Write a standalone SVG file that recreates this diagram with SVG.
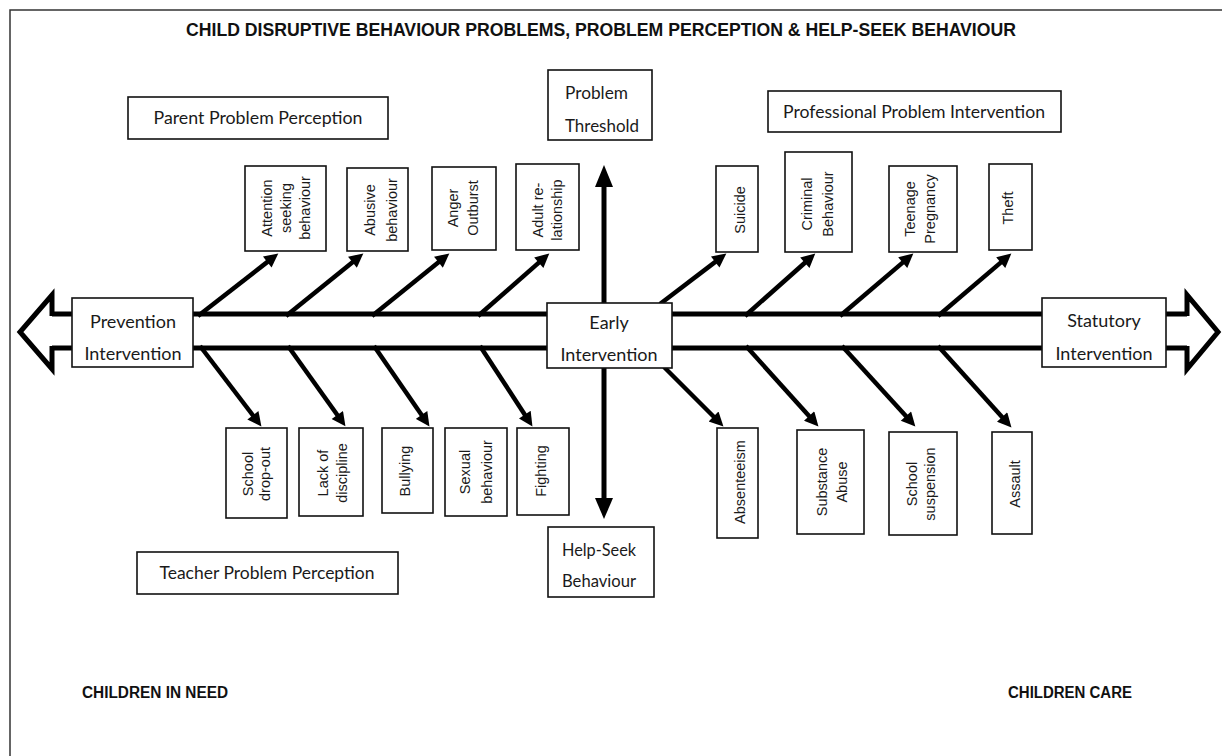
<svg xmlns="http://www.w3.org/2000/svg" width="1222" height="756" viewBox="0 0 1222 756">
  <defs>
    <marker id="head" viewBox="0 0 10 10" markerUnits="userSpaceOnUse" markerWidth="16" markerHeight="14" refX="6" refY="5" orient="auto">
      <path d="M0,0 L10,5 L0,10 z" fill="#000"/>
    </marker>
    <style>
      .frame { fill: none; stroke: #333; stroke-width: 1.5; }
      .box { fill: #fff; stroke: #111; stroke-width: 1.6; }
      .spine { fill: none; stroke: #000; stroke-width: 5; stroke-linejoin: miter; }
      .branch { fill: none; stroke: #000; stroke-width: 4.5; marker-end: url(#head); }
      .title { font-family: "Liberation Sans", Arial, sans-serif; font-weight: bold; font-size: 18px; fill: #111; }
      .lbl { font-family: Lato, "Liberation Sans", sans-serif; font-size: 18px; fill: #1a1a1a; }
      .mid { text-anchor: middle; }
      .v { font-family: "Liberation Sans", Arial, sans-serif; font-size: 14.5px; fill: #1a1a1a; text-anchor: middle; }
      .foot { font-family: "Liberation Sans", Arial, sans-serif; font-weight: bold; font-size: 16px; fill: #111; }
    </style>
  </defs>

  <rect width="1222" height="756" fill="#fff"/>
  <rect class="frame" x="10" y="10" width="1240" height="770"/>

  <text class="title mid" x="601" y="36" textLength="830" lengthAdjust="spacingAndGlyphs">CHILD DISRUPTIVE BEHAVIOUR PROBLEMS, PROBLEM PERCEPTION &amp; HELP-SEEK BEHAVIOUR</text>

  <g id="connectors">
    <!-- double-lined horizontal arrow -->
    <line class="spine" x1="52" y1="314" x2="1187" y2="314"/>
    <line class="spine" x1="52" y1="348" x2="1187" y2="348"/>
    <polyline class="spine" points="52,316 52,295 20,332 52,369 52,346"/>
    <polyline class="spine" points="1187,316 1187,295 1218,332 1187,369 1187,346"/>
    <!-- vertical arrow -->
    <line class="spine" x1="604" y1="303" x2="604" y2="185"/>
    <polygon points="595,187 613,187 604,165" fill="#000"/>
    <line class="spine" x1="604" y1="368" x2="604" y2="500"/>
    <polygon points="595,498 613,498 604,519" fill="#000"/>
    <!-- upper branches -->
    <line class="branch" x1="198" y1="316" x2="273.9" y2="256.9"/>
    <line class="branch" x1="286" y1="316" x2="359.0" y2="256.9"/>
    <line class="branch" x1="372" y1="316" x2="445.0" y2="256.9"/>
    <line class="branch" x1="478" y1="316" x2="545.1" y2="257.1"/>
    <line class="branch" x1="660" y1="304" x2="721.9" y2="256.9"/>
    <line class="branch" x1="745" y1="316" x2="811.1" y2="257.2"/>
    <line class="branch" x1="840" y1="316" x2="909.1" y2="257.1"/>
    <line class="branch" x1="938" y1="316" x2="1007.1" y2="257.1"/>
    <!-- lower branches -->
    <line class="branch" x1="200" y1="346" x2="258.0" y2="422.0"/>
    <line class="branch" x1="288" y1="346" x2="342.2" y2="421.8"/>
    <line class="branch" x1="374" y1="346" x2="426.3" y2="421.8"/>
    <line class="branch" x1="480" y1="346" x2="529.4" y2="421.7"/>
    <line class="branch" x1="664" y1="367" x2="719.5" y2="422.5"/>
    <line class="branch" x1="746" y1="346" x2="814.7" y2="422.3"/>
    <line class="branch" x1="842" y1="346" x2="911.6" y2="422.3"/>
    <line class="branch" x1="938" y1="346" x2="1007.7" y2="423.3"/>
  </g>

  <!-- perception / threshold labels -->
  <g id="parent-perception">
    <rect class="box" x="128" y="97" width="260" height="42"/>
    <text class="lbl mid" x="258" y="124" textLength="209" lengthAdjust="spacingAndGlyphs">Parent Problem Perception</text>
  </g>
  <g id="problem-threshold">
    <rect class="box" x="548" y="70" width="104" height="70"/>
    <text class="lbl" x="565" y="99" textLength="63" lengthAdjust="spacingAndGlyphs">Problem</text>
    <text class="lbl" x="565" y="132" textLength="74" lengthAdjust="spacingAndGlyphs">Threshold</text>
  </g>
  <g id="professional-intervention">
    <rect class="box" x="768" y="91" width="293" height="41"/>
    <text class="lbl mid" x="914" y="118" textLength="262" lengthAdjust="spacingAndGlyphs">Professional Problem Intervention</text>
  </g>
  <g id="teacher-perception">
    <rect class="box" x="137" y="552" width="261" height="42"/>
    <text class="lbl mid" x="267" y="579" textLength="215" lengthAdjust="spacingAndGlyphs">Teacher Problem Perception</text>
  </g>
  <g id="help-seek">
    <rect class="box" x="548" y="527" width="106" height="70"/>
    <text class="lbl" x="562" y="556" textLength="74" lengthAdjust="spacingAndGlyphs">Help-Seek</text>
    <text class="lbl" x="562" y="587" textLength="74" lengthAdjust="spacingAndGlyphs">Behaviour</text>
  </g>

  <!-- intervention stages on the spine -->
  <g id="prevention">
    <rect class="box" x="72" y="298" width="121" height="69"/>
    <text class="lbl mid" x="133" y="328">Prevention</text>
    <text class="lbl mid" x="133" y="360">Intervention</text>
  </g>
  <g id="early">
    <rect class="box" x="547" y="303" width="125" height="65"/>
    <text class="lbl mid" x="609" y="329">Early</text>
    <text class="lbl mid" x="609" y="361">Intervention</text>
  </g>
  <g id="statutory">
    <rect class="box" x="1042" y="298" width="124" height="69"/>
    <text class="lbl mid" x="1104" y="327">Statutory</text>
    <text class="lbl mid" x="1104" y="360">Intervention</text>
  </g>

  <!-- upper problem boxes -->
  <g id="attention">
    <rect class="box" x="245" y="166" width="81" height="85"/>
    <text class="v" transform="translate(272,208) rotate(-90)">Attention</text>
    <text class="v" transform="translate(291,208) rotate(-90)">seeking</text>
    <text class="v" transform="translate(310,208) rotate(-90)">behaviour</text>
  </g>
  <g id="abusive">
    <rect class="box" x="347" y="168" width="61" height="83"/>
    <text class="v" transform="translate(375,210) rotate(-90)">Abusive</text>
    <text class="v" transform="translate(397,210) rotate(-90)">behaviour</text>
  </g>
  <g id="anger">
    <rect class="box" x="432" y="167" width="64" height="83"/>
    <text class="v" transform="translate(458,208) rotate(-90)">Anger</text>
    <text class="v" transform="translate(478,208) rotate(-90)">Outburst</text>
  </g>
  <g id="adult">
    <rect class="box" x="516" y="164" width="63" height="86"/>
    <text class="v" transform="translate(543,210) rotate(-90)">Adult re-</text>
    <text class="v" transform="translate(562,210) rotate(-90)">lationship</text>
  </g>
  <g id="suicide">
    <rect class="box" x="716" y="166" width="42" height="86"/>
    <text class="v" transform="translate(745,210) rotate(-90)">Suicide</text>
  </g>
  <g id="criminal">
    <rect class="box" x="785" y="152" width="67" height="100"/>
    <text class="v" transform="translate(812,204) rotate(-90)">Criminal</text>
    <text class="v" transform="translate(833,204) rotate(-90)">Behaviour</text>
  </g>
  <g id="teenage">
    <rect class="box" x="889" y="166" width="68" height="86"/>
    <text class="v" transform="translate(915,209) rotate(-90)">Teenage</text>
    <text class="v" transform="translate(935,209) rotate(-90)">Pregnancy</text>
  </g>
  <g id="theft">
    <rect class="box" x="989" y="164" width="43" height="86"/>
    <text class="v" transform="translate(1013,208) rotate(-90)">Theft</text>
  </g>

  <!-- lower problem boxes -->
  <g id="dropout">
    <rect class="box" x="226" y="428" width="61" height="90"/>
    <text class="v" transform="translate(253,474) rotate(-90)">School</text>
    <text class="v" transform="translate(270,474) rotate(-90)">drop-out</text>
  </g>
  <g id="discipline">
    <rect class="box" x="299" y="428" width="64" height="88"/>
    <text class="v" transform="translate(328,473) rotate(-90)">Lack of</text>
    <text class="v" transform="translate(347,473) rotate(-90)">discipline</text>
  </g>
  <g id="bullying">
    <rect class="box" x="382" y="428" width="51" height="85"/>
    <text class="v" transform="translate(410,471) rotate(-90)">Bullying</text>
  </g>
  <g id="sexual">
    <rect class="box" x="445" y="428" width="62" height="88"/>
    <text class="v" transform="translate(470,472) rotate(-90)">Sexual</text>
    <text class="v" transform="translate(492,472) rotate(-90)">behaviour</text>
  </g>
  <g id="fighting">
    <rect class="box" x="517" y="428" width="52" height="87"/>
    <text class="v" transform="translate(546,471) rotate(-90)">Fighting</text>
  </g>
  <g id="absenteeism">
    <rect class="box" x="717" y="428" width="41" height="110"/>
    <text class="v" transform="translate(745,482) rotate(-90)">Absenteeism</text>
  </g>
  <g id="substance">
    <rect class="box" x="797" y="430" width="67" height="104"/>
    <text class="v" transform="translate(827,482) rotate(-90)">Substance</text>
    <text class="v" transform="translate(847,482) rotate(-90)">Abuse</text>
  </g>
  <g id="suspension">
    <rect class="box" x="889" y="432" width="68" height="103"/>
    <text class="v" transform="translate(917,484) rotate(-90)">School</text>
    <text class="v" transform="translate(935,484) rotate(-90)">suspension</text>
  </g>
  <g id="assault">
    <rect class="box" x="992" y="432" width="40" height="102"/>
    <text class="v" transform="translate(1020,484) rotate(-90)">Assault</text>
  </g>

  <text class="foot" x="82" y="698" textLength="146" lengthAdjust="spacingAndGlyphs">CHILDREN IN NEED</text>
  <text class="foot" x="1008" y="698" textLength="124" lengthAdjust="spacingAndGlyphs">CHILDREN CARE</text>
</svg>
